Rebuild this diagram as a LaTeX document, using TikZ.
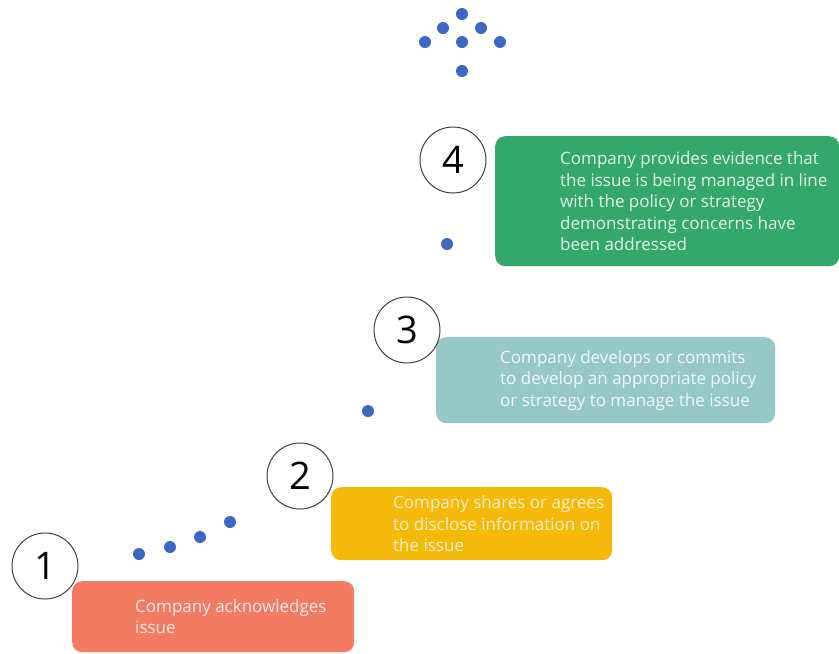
\documentclass[tikz,border=0pt]{standalone}
\usepackage{fontspec}
\setmainfont{Open Sans}
\usetikzlibrary{positioning}
\definecolor{stepone}{HTML}{F27B62}
\definecolor{steptwo}{HTML}{F5B90A}
\definecolor{stepthree}{HTML}{95C8C7}
\definecolor{stepfour}{HTML}{34A86B}
\definecolor{dotblue}{HTML}{3C67C5}
\tikzstyle{stagebox}=[rounded corners=10pt,inner sep=0pt,anchor=north west]
\tikzstyle{stagenum}=[circle,draw=black!75,line width=1pt,minimum size=66pt,inner sep=0pt,font=\fontsize{38}{38}\selectfont]
\tikzstyle{stagetext}=[anchor=west,align=left,inner sep=0pt,font=\fontsize{17}{21.5}\selectfont]
\tikzstyle{dot}=[circle,fill=dotblue,minimum size=12pt,inner sep=0pt]

\begin{document}
\begin{tikzpicture}[x=1pt,y=-1pt]
    \useasboundingbox (0,0) rectangle (839,654);
    % stage boxes
    \node[stagebox,fill=stepone,minimum width=282pt,minimum height=71pt] (box1) at (72,581) {};
    \node[stagebox,fill=steptwo,minimum width=281pt,minimum height=73pt] (box2) at (331,487) {};
    \node[stagebox,fill=stepthree,minimum width=339pt,minimum height=86pt] (box3) at (436,337) {};
    \node[stagebox,fill=stepfour,minimum width=344pt,minimum height=130pt] (box4) at (495,136) {};
    % texts
    \node[stagetext,text=white!85!stepone] (text1) at ([xshift=63pt]box1.west)
      {Company acknowledges\\issue};
    \node[stagetext,text=white!80!steptwo] (text2) at ([xshift=62pt]box2.west)
      {Company shares or agrees\\to disclose information on\\the issue};
    \node[stagetext,text=white!85!stepthree] (text3) at ([xshift=64pt]box3.west)
      {Company develops or commits\\to develop an appropriate policy\\or strategy to manage the issue};
    \node[stagetext,text=white!85!stepfour] (text4) at ([xshift=65pt]box4.west)
      {Company provides evidence that\\the issue is being managed in line\\with the policy or strategy\\demonstrating concerns have\\been addressed};
    % numbers
    \node[stagenum] (num1) at (45,566) {1};
    \node[stagenum] (num2) at (300,476) {2};
    \node[stagenum] (num3) at (407,330) {3};
    \node[stagenum] (num4) at (453,160) {4};
    % dots
    \foreach \px/\py [count=\i] in {139/554,170/547,200/537,230/522,368/411,447/244}
      \node[dot] (path\i) at (\px,\py) {};
    \foreach \px/\py [count=\i] in {462/14,443/28,481/28,425/42,462/42,500/42,462/71}
      \node[dot] (arrow\i) at (\px,\py) {};
\end{tikzpicture}
\end{document}
